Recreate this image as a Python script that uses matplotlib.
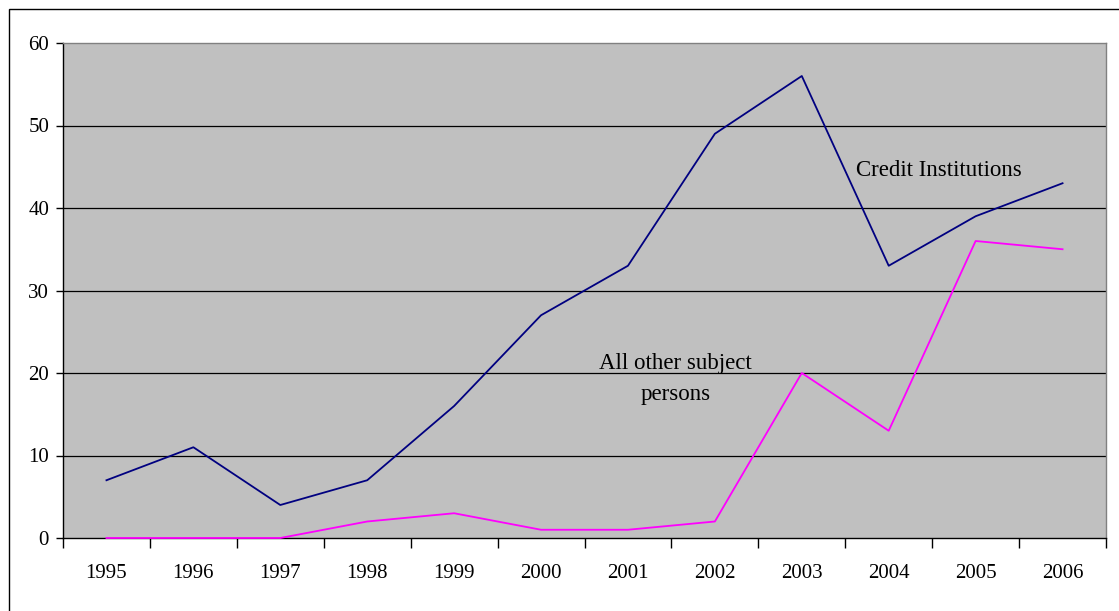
import matplotlib
matplotlib.use("Agg")
import matplotlib.pyplot as plt
from matplotlib.patches import Rectangle
import numpy as np

years = ["1995", "1996", "1997", "1998", "1999", "2000", "2001", "2002", "2003", "2004", "2005", "2006"]
credit_institutions = [7, 11, 4, 7, 16, 27, 33, 49, 56, 33, 39, 43]
other_subject_persons = [0, 0, 0, 2, 3, 1, 1, 2, 20, 13, 36, 35]
y_ticks = [0, 10, 20, 30, 40, 50, 60]

plt.rcParams['font.family'] = ['Liberation Serif', 'DejaVu Serif']

W, H = 1119, 611
fig = plt.figure(figsize=(W / 100, H / 100), dpi=100)
ax = fig.add_axes([63 / W, 1 - 538 / H, (1106 - 63) / W, (538 - 43) / H])
ax.set_facecolor("#C0C0C0")

x = np.arange(len(years))
ax.plot(x, credit_institutions, color="#000080", lw=1.3, zorder=4, clip_on=False)
ax.plot(x, other_subject_persons, color="#FF00FF", lw=1.3, zorder=4, clip_on=False)

ax.set_xlim(-0.5, len(years) - 0.5)
ax.set_ylim(0, 60)
ax.set_yticks(y_ticks)
ax.set_yticklabels([str(v) for v in y_ticks], fontsize=15)
for v in y_ticks[1:-1]:
    ax.axhline(v, color="black", lw=0.9, zorder=1)

ax.set_xticks(x)
ax.set_xticklabels(years, fontsize=15)
ax.tick_params(axis="x", which="major", length=0, pad=19)
ax.set_xticks(np.arange(-0.5, len(years), 1.0), minor=True)
ax.tick_params(axis="x", which="minor", length=7, width=1, color="black", direction="out")
ax.tick_params(axis="y", length=5, width=1, direction="out", pad=5)

for s in ["left", "bottom"]:
    ax.spines[s].set_color("black")
    ax.spines[s].set_linewidth(1.0)
for s in ["top", "right"]:
    ax.spines[s].set_color("#808080")
    ax.spines[s].set_linewidth(1.0)

ax.text(9.58, 44.5, "Credit Institutions", fontsize=16.5, ha="center", va="center")
ax.text(6.55, 21.2, "All other subject", fontsize=16.5, ha="center", va="center")
ax.text(6.55, 17.45, "persons", fontsize=16.5, ha="center", va="center")

fig.patches.append(Rectangle((9 / W, -0.1), 1.2, 1.1 - 9 / H, transform=fig.transFigure,
                             fill=False, edgecolor="black", lw=1.0))

fig.savefig("out.png", dpi=100, facecolor="white")
